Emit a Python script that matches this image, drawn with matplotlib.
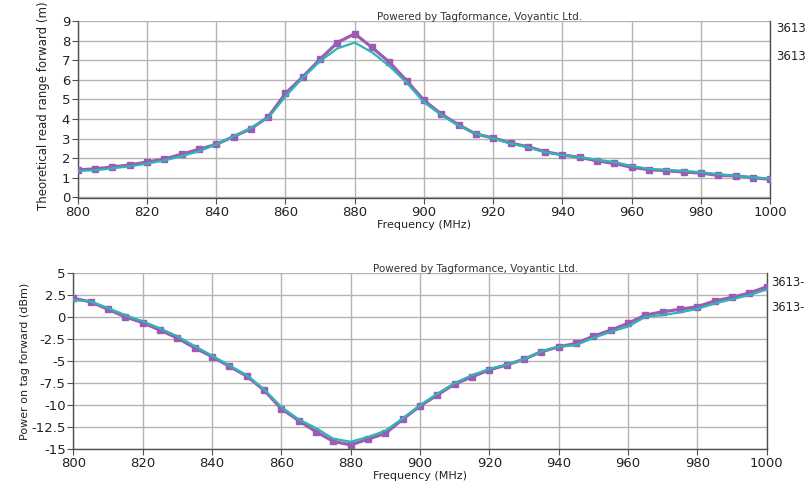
import numpy as np
import matplotlib
matplotlib.use('Agg')
import matplotlib.pyplot as plt

freq = np.arange(800, 1001, 5)

# read range forward (m)
range_a = [1.4, 1.45, 1.55, 1.65, 1.8, 1.95, 2.2, 2.45, 2.7, 3.1, 3.5,
           4.1, 5.3, 6.15, 7.05, 7.9, 8.35, 7.65, 6.9, 5.95, 4.95,
           4.25, 3.7, 3.23, 3.03, 2.77, 2.58, 2.33, 2.16, 2.04, 1.86,
           1.73, 1.53, 1.41, 1.36, 1.29, 1.24, 1.12, 1.1, 1.0, 0.92]
range_b = [1.35, 1.38, 1.48, 1.58, 1.72, 1.88, 2.1, 2.35, 2.7, 3.1, 3.55,
           4.05, 5.15, 6.1, 6.95, 7.6, 7.9, 7.4, 6.7, 5.85, 4.85,
           4.2, 3.65, 3.25, 3.0, 2.75, 2.55, 2.3, 2.15, 2.05, 1.92,
           1.8, 1.6, 1.45, 1.4, 1.35, 1.28, 1.18, 1.1, 1.02, 0.95]

# power on tag forward (dBm)
power_a = [2.1, 1.7, 0.85, 0.0, -0.66, -1.5, -2.4, -3.5, -4.5, -5.6, -6.7,
           -8.3, -10.4, -11.75, -13.0, -14.1, -14.5, -13.85, -13.2, -11.6, -10.1,
           -8.85, -7.6, -6.8, -6.0, -5.45, -4.8, -3.95, -3.4, -3.0, -2.2,
           -1.5, -0.74, 0.2, 0.57, 0.85, 1.15, 1.8, 2.2, 2.7, 3.4]
power_b = [1.9, 1.75, 1.0, 0.2, -0.5, -1.3, -2.2, -3.3, -4.4, -5.5, -6.6,
           -8.2, -10.2, -11.6, -12.6, -13.8, -14.14, -13.6, -12.9, -11.5, -10.0,
           -8.7, -7.5, -6.6, -5.9, -5.4, -4.8, -3.9, -3.4, -3.2, -2.4,
           -1.7, -1.1, 0.0, 0.2, 0.5, 0.9, 1.5, 2.0, 2.45, 3.1]

purple = '#9b5cb4'
teal = '#2fb5b5'
txt = '#222222'

fig = plt.figure(figsize=(8.08, 4.93), dpi=100)
ax1 = fig.add_axes([0.0962, 0.5978, 0.857, 0.3596])
ax2 = fig.add_axes([0.0907, 0.0886, 0.8582, 0.3583])

def style(ax, ylim, yticks, yticklabels):
    ax.set_xlim(800, 1000)
    ax.set_ylim(*ylim)
    ax.set_xticks(range(800, 1001, 20))
    ax.set_yticks(yticks)
    ax.set_yticklabels(yticklabels)
    ax.grid(True, color='#b4b4b4', linewidth=1.0)
    ax.set_axisbelow(True)
    ax.spines['top'].set_visible(False)
    for s in ['left', 'bottom', 'right']:
        ax.spines[s].set_color('#505050')
        ax.spines[s].set_linewidth(1.0)
    ax.tick_params(axis='both', direction='out', length=4, color='#505050',
                   labelsize=9.5, labelcolor=txt, pad=1.5)
    ax.set_xlabel('Frequency (MHz)', fontsize=8, color=txt, labelpad=1)

style(ax1, (-0.05, 9), range(0, 10), [str(v) for v in range(0, 10)])
ax1.plot(freq, range_a, color=purple, lw=2.3, marker='s', ms=5, zorder=3)
ax1.plot(freq, range_b, color=teal, lw=1.6, zorder=4)
ax1.set_ylabel('Theoretical read range forward (m)', fontsize=8.5, color=txt)
ax1.yaxis.set_label_coords(-0.04, 0.52)

pticks = [5, 2.5, 0, -2.5, -5, -7.5, -10, -12.5, -15]
style(ax2, (-15, 5), pticks, ['5', '2.5', '0', '-2.5', '-5', '-7.5', '-10', '-12.5', '-15'])
ax2.plot(freq, power_a, color=purple, lw=2.3, marker='s', ms=5, zorder=3)
ax2.plot(freq, power_b, color=teal, lw=1.6, zorder=4)
ax2.set_ylabel('Power on tag forward (dBm)', fontsize=8, color=txt, labelpad=1)

fig.text(0.467, 0.965, 'Powered by Tagformance, Voyantic Ltd.', fontsize=7.5, color='#333333', va='center')
fig.text(0.462, 0.455, 'Powered by Tagformance, Voyantic Ltd.', fontsize=7.5, color='#333333', va='center')

fig.text(0.960, 0.943, '3613', fontsize=8.5, color=txt, va='center')
fig.text(0.960, 0.885, '3613', fontsize=8.5, color=txt, va='center')
fig.text(0.954, 0.427, '3613-', fontsize=8.3, color=txt, va='center')
fig.text(0.954, 0.376, '3613-', fontsize=8.3, color=txt, va='center')

fig.savefig('out.png', dpi=100)
